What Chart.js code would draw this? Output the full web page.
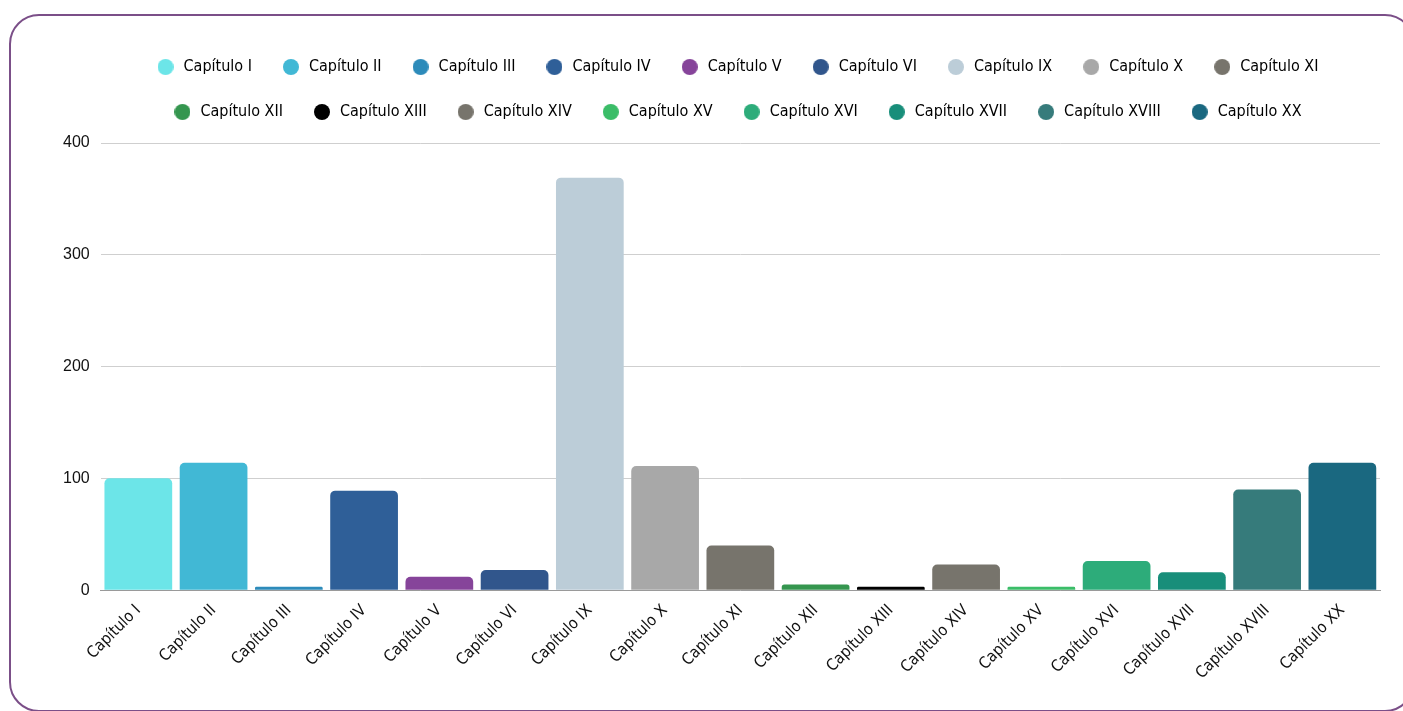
<!DOCTYPE html>
<html>
<head>
<meta charset="utf-8">
<script src="https://cdn.jsdelivr.net/npm/chart.js@4.4.0/dist/chart.umd.min.js"></script>
<style>
  html, body { margin: 0; padding: 0; background: #fff; overflow: hidden; }
  .card {
    position: absolute; left: 9px; top: 14px; width: 1406px; height: 698px;
    border: 2px solid #7b4f88; border-radius: 30px; box-sizing: border-box;
  }
  #chart { position: absolute; left: 0; top: 0; }
</style>
</head>
<body>
<div class="card"></div>
<canvas id="chart" width="1403" height="711"></canvas>
<script>
// Chapters and their counts
var chapters = ['Capítulo I', 'Capítulo II', 'Capítulo III', 'Capítulo IV', 'Capítulo V',
  'Capítulo VI', 'Capítulo IX', 'Capítulo X', 'Capítulo XI', 'Capítulo XII', 'Capítulo XIII',
  'Capítulo XIV', 'Capítulo XV', 'Capítulo XVI', 'Capítulo XVII', 'Capítulo XVIII', 'Capítulo XX'];
var counts = [100, 114, 3, 89, 12, 18, 369, 111, 40, 5, 3, 23, 3, 26, 16, 90, 114];
var colors = ['#6ce5e8', '#41b8d5', '#2d8bba', '#2f5f98', '#86449a', '#31568c', '#bccdd8',
  '#a8a8a8', '#77746c', '#35964f', '#000000', '#77746c', '#3bbd68', '#2dac7a', '#188e7a',
  '#367b7b', '#1a6880'];
var yTicks = [0, 100, 200, 300, 400];

// 16px dots for the legend
var dots = colors.map(function (col) {
    var cv = document.createElement('canvas');
    cv.width = 16; cv.height = 16;
    var g = cv.getContext('2d');
    g.fillStyle = col;
    g.beginPath();
    g.arc(8, 8, 8, 0, Math.PI * 2);
    g.fill();
    return cv;
});

// more room under the legend, and nudge it right a bit
var legendTweak = {
    id: 'legendTweak',
    beforeInit: function (c) {
        var fit = c.legend.fit;
        c.legend.fit = function () {
            fit.call(this);
            this.height += 13;
        };
        var draw = c.legend.draw;
        c.legend.draw = function () {
            this.ctx.save();
            this.ctx.translate(21, 0);
            draw.apply(this, arguments);
            this.ctx.restore();
        };
    }
};

var ctx = document.getElementById('chart').getContext('2d');
var chart = new Chart(ctx, {
    type: 'bar',
    data: {
        labels: chapters,
        datasets: [{
            data: counts,
            backgroundColor: colors,
            borderRadius: 5,
            borderSkipped: 'bottom',
            categoryPercentage: 1,
            barPercentage: 0.9
        }]
    },
    plugins: [legendTweak],
    options: {
        responsive: false,
        animation: false,
        layout: { padding: { left: 52, right: 23, top: 30, bottom: 25 } },
        plugins: {
            tooltip: { enabled: false },
            legend: {
                position: 'top',
                labels: {
                    usePointStyle: true,
                    pointStyleWidth: 20,
                    boxHeight: 16,
                    padding: 29,
                    color: '#111',
                    font: { family: "'DejaVu Sans Condensed', 'Roboto', sans-serif", size: 16 },
                    generateLabels: function (c) {
                        return chapters.map(function (name, i) {
                            return {
                                text: name,
                                fillStyle: colors[i],
                                strokeStyle: colors[i],
                                lineWidth: 0,
                                pointStyle: dots[i],
                                index: i,
                                datasetIndex: 0
                            };
                        });
                    }
                }
            }
        },
        scales: {
            x: {
                grid: { display: false },
                border: { color: '#9a9a9a', width: 1 },
                ticks: {
                    color: '#111',
                    minRotation: 45,
                    maxRotation: 45,
                    autoSkip: false,
                    font: { family: "'DejaVu Sans Condensed', sans-serif", size: 16 }
                }
            },
            y: {
                min: 0,
                max: 400,
                afterBuildTicks: function (axis) {
                    axis.ticks = yTicks.map(function (v) { return { value: v }; });
                },
                grid: { color: '#cfcfcf', drawTicks: false },
                border: { display: false },
                ticks: {
                    color: '#111',
                    padding: 11,
                    font: { family: "'Liberation Sans', Arial, sans-serif", size: 16 }
                }
            }
        }
    }
});
</script>
</body>
</html>
